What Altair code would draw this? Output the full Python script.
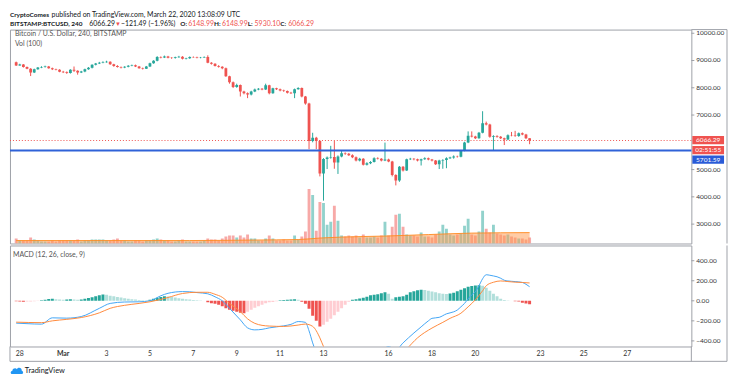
import altair as alt
import numpy as np
import pandas as pd

FONT = "Lato"
UP, DOWN = "#26a69a", "#ef5350"
UP_LIGHT, DOWN_LIGHT = "#b2dfdb", "#ffcdd2"
GRID = "#eef1f6"
FRAME = "#9ea1a8"
TXT = "#333333"

# ---------------- data (BITSTAMP:BTCUSD, 4h candles from 2020-02-27 20:00 UTC) -------------
first_open = 8940
closes = [8820, 8850, 8760, 8700, 8560, 8680, 8740, 8760, 8780, 8720,
          8680, 8660, 8590, 8570, 8540, 8660, 8620, 8560, 8600, 8680,
          8730, 8840, 8890, 8920, 8940, 8950, 8860, 8800, 8760, 8740,
          8770, 8810, 8830, 8780, 8720, 8700, 8780, 8900, 8990, 9130,
          9110, 9150, 9100, 9090, 9120, 9140, 9060, 9080, 9130, 9120,
          9100, 9110, 9130, 8920, 8880, 8800, 8770, 8720, 8420, 8200,
          8030, 8100, 7860, 7800, 7750, 7860, 7940, 7960, 7940, 8090,
          7800, 7980, 7950, 7900, 7880, 7820, 7800, 7950, 7990, 7680,
          7420, 6050, 6170, 6050, 4860, 5390, 5440, 5460, 5260, 5480,
          5600, 5580, 5530, 5450, 5330, 5400, 5180, 5230, 5280, 5420,
          5400, 5330, 5370, 5300, 4800, 4600, 5100, 4970, 5380, 5400,
          5380, 5330, 5380, 5420, 5370, 5330, 5200, 5330, 5350, 5420,
          5440, 5480, 5470, 5690, 5990, 6240, 6210, 6150, 6350, 6700,
          6650, 6200, 6230, 6200, 6150, 6100, 6260, 6250, 6230, 6330,
          6290, 6148.99, 6066.29]
highs = [8960, 8880, 8870, 8780, 8720, 8700, 8760, 8790, 8810, 8800,
         8740, 8700, 8680, 8620, 8600, 8680, 8780, 8640, 8620, 8700,
         8760, 8860, 8910, 8950, 8970, 8990, 8970, 8880, 8830, 8780,
         8790, 8830, 8850, 8850, 8800, 8740, 8800, 8920, 9010, 9160,
         9150, 9180, 9170, 9120, 9140, 9170, 9160, 9100, 9150, 9150,
         9140, 9130, 9150, 9190, 8940, 8900, 8830, 8790, 8740, 8440,
         8230, 8150, 8120, 7890, 7830, 7890, 7970, 7990, 7990, 8150,
         8110, 8000, 8000, 7970, 7930, 7900, 7850, 7970, 8020, 8010,
         7700, 7450, 6350, 6200, 6080, 5420, 5480, 5870, 6050, 5520,
         5680, 5630, 5610, 5560, 5480, 5430, 5420, 5270, 5310, 5450,
         5450, 5420, 5990, 5400, 5320, 4830, 5130, 5130, 5400, 5430,
         5420, 5400, 5400, 5450, 5440, 5390, 5350, 5360, 5380, 5450,
         5470, 5520, 5510, 5720, 6020, 6400, 6400, 6240, 6380, 7140,
         6760, 6680, 6260, 6260, 6230, 6170, 6290, 6380, 6420, 6360,
         6360, 6310, 6148.99]
lows = [8800, 8810, 8740, 8680, 8430, 8540, 8660, 8720, 8740, 8700,
        8650, 8640, 8570, 8540, 8510, 8520, 8580, 8480, 8540, 8570,
        8660, 8710, 8820, 8870, 8900, 8920, 8840, 8770, 8740, 8710,
        8720, 8750, 8790, 8760, 8700, 8670, 8690, 8760, 8880, 8970,
        9080, 9090, 9080, 9060, 9070, 9100, 9040, 9040, 9060, 9100,
        9080, 9080, 9100, 8900, 8850, 8780, 8740, 8680, 8400, 8150,
        7990, 8000, 7680, 7760, 7620, 7720, 7840, 7910, 7910, 7920,
        7760, 7780, 7920, 7870, 7850, 7790, 7770, 7620, 7930, 7650,
        7380, 5750, 6000, 5750, 4750, 3860, 5020, 5400, 5030, 4840,
        5450, 5540, 5500, 5420, 5300, 5300, 5150, 5150, 5200, 5260,
        5370, 5300, 5310, 5270, 4750, 4420, 4550, 4930, 4950, 5350,
        5340, 5300, 5150, 5360, 5340, 5300, 5170, 5020, 5030, 5050,
        5390, 5400, 5440, 5450, 5670, 5970, 6180, 6120, 6130, 6330,
        6620, 6170, 5690, 6170, 6120, 5900, 6080, 6220, 6200, 6200,
        6260, 6120, 5930.10]
volumes = [2500, 1500, 1500, 1500, 3000, 2000, 1500, 1000, 1000, 1000,
           1500, 1000, 1500, 1500, 1500, 1500, 1500, 2000, 1000, 1500,
           1500, 2000, 2000, 2000, 2000, 1500, 1500, 2000, 2500, 1500,
           1500, 1000, 1000, 1500, 1500, 1000, 1500, 1500, 2000, 2500,
           2000, 1500, 1500, 1000, 1000, 1500, 2000, 1000, 1000, 1000,
           1000, 1000, 1500, 2500, 2000, 2000, 1500, 2500, 3500, 4000,
           4000, 3000, 4000, 3000, 4500, 2500, 2500, 1500, 1500, 2500,
           4000, 2500, 1500, 1500, 2000, 1500, 1500, 4000, 2000, 3500,
           6000, 27500, 24500, 6500, 21000, 20500, 9500, 11000, 19000, 11500,
           4000, 3500, 4000, 3500, 4000, 3000, 4500, 3000, 3000, 3500,
           3000, 4000, 11000, 4000, 8500, 14500, 15000, 8500, 4500, 4000,
           4000, 3500, 5500, 3500, 3500, 3000, 4500, 6000, 9500, 7500,
           4500, 4000, 4500, 5000, 9000, 12500, 4500, 4000, 6000, 16500,
           7500, 5500, 9500, 5000, 4500, 4000, 4500, 3500, 3000, 2500,
           2500, 2000, 3000]
vma_idx = [0, 24, 48, 66, 78, 84, 90, 102, 114, 126, 142]
vma_val = [1500, 1500, 1500, 1750, 2000, 2750, 3250, 3750, 4500, 5250, 5500]

hist = [-5, -8, -10, -8, -6, -4, -2,
        5, 10, 18, 20, 15, 12, 10, 14, 16, 12, 10, 14, 20, 28,
        35, 45, 55, 62, 60,
        50, 45, 38, 32, 25, 20, 15, 12, 8, 5, 3,
        10, 20, 30, 38, 45, 42,
        38, 32, 25, 20, 15, 12, 8, 5, 3, 1,
        -15, -25, -30, -40, -55, -75, -90, -100, -110, -118, -124,
        -110, -90, -70, -55, -40, -25, -15,
        -12, -5,
        5, 8, 10, 12, 15, 10,
        -10, -30, -80, -150, -200, -256,
        -240, -210, -180, -145, -110, -75, -40, -10,
        10, 15, 22, 30, 40, 55, 60, 65, 75, 85,
        70, 20, 35, 40, 45, 60, 85, 95, 105, 110,
        108, 100, 92, 85, 75, 70, 68, 72, 80, 95,
        110, 125, 140, 148, 152, 155, 150, 130, 100, 70,
        45, 20, 8, 3, 0, -5, -8, -20, -28, -35]
macd_idx = [0, 3, 7, 10, 14, 18, 23, 26, 30, 34,
            37, 40, 42, 46, 48, 50, 53, 55, 57, 59,
            62, 64, 66, 68, 70, 74, 76, 78, 80, 81,
            82, 83, 85, 88, 92, 96, 100, 103, 105, 107,
            110, 112, 114, 115, 117, 119, 121, 122, 123, 124,
            125, 126, 127, 128, 129, 130, 131, 132, 133, 134,
            135, 136, 138, 140, 141, 142]
macd_val = [-223, -228, -233, -170, -173, -157, -75, -26, -12, -10,
            0, 50, 75, 92, 90, 82, 70, 40, 0, -75,
            -190, -270, -290, -285, -270, -250, -235, -207, -215, -300,
            -420, -520, -700, -780, -750, -650, -540, -457, -490, -420,
            -321, -260, -200, -175, -165, -130, -110, -92, -60, -26,
            20, 60, 90, 150, 220, 260, 255, 248, 240, 225,
            205, 198, 192, 183, 165, 141]
sig_idx = [0, 7, 10, 14, 18, 23, 26, 30, 34, 37,
           42, 46, 50, 53, 55, 57, 59, 62, 64, 66,
           68, 70, 74, 78, 80, 82, 84, 85, 87, 90,
           95, 100, 105, 108, 111, 115, 118, 120, 123, 125,
           127, 129, 130, 132, 134, 136, 138, 140, 142]
sig_val = [-213, -218, -200, -185, -167, -120, -75, -45, -26, -10,
           33, 73, 85, 85, 65, 35, -26, -108, -180, -225,
           -245, -252, -256, -242, -232, -255, -370, -456, -560, -650,
           -700, -650, -580, -480, -370, -272, -215, -175, -124, -60,
           10, 100, 150, 185, 198, 192, 186, 183, 178]

date_ticks = ["2020-02-28", "2020-03-01", "2020-03-03", "2020-03-05", "2020-03-07",
              "2020-03-09", "2020-03-11", "2020-03-13", "2020-03-16", "2020-03-18",
              "2020-03-20", "2020-03-23", "2020-03-25", "2020-03-27"]
date_labels = ["28", "Mar", "3", "5", "7", "9", "11", "13", "16", "18", "20", "23", "25", "27"]
price_ticks = [3000, 4000, 5000, 6000, 7000, 8000, 9000, 10000]
price_label_ticks = [3000, 4000, 5000, 7000, 8000, 9000, 10000]  # 6000.00 sits under the price tags
macd_ticks = [-400, -200, 0, 200, 400]

last_price = 6066.29
line_price = 5701.59


def ms(s):
    return int(pd.Timestamp(s, tz="UTC").value // 1_000_000)


T0 = ms("2020-02-27 20:00")
STEP = 4 * 3600 * 1000
n = len(closes)
times = [T0 + i * STEP for i in range(n)]
opens = [first_open] + closes[:-1]

df = pd.DataFrame(dict(t=times, open=opens, high=highs, low=lows, close=closes,
                       vol=volumes, hist=hist))
df["ccol"] = np.where(df["close"] >= df["open"], UP, DOWN)
hcol, prev = [], 0
for h in hist:
    if h >= 0:
        hcol.append(UP if h >= prev else UP_LIGHT)
    else:
        hcol.append(DOWN if h <= prev else DOWN_LIGHT)
    prev = h
df["hcol"] = hcol

vma_df = pd.DataFrame(dict(t=[times[i] for i in vma_idx], v=vma_val))
macd_df = pd.DataFrame(dict(t=[times[i] for i in macd_idx], v=macd_val))
sig_df = pd.DataFrame(dict(t=[times[i] for i in sig_idx], v=sig_val))
one = pd.DataFrame({"k": [0]})
tick_ms = [ms(d) for d in date_ticks]
date_df = pd.DataFrame(dict(t=tick_ms, lab=date_labels))
date_df["bold"] = date_df["lab"] == "Mar"
plab_df = pd.DataFrame(dict(v=price_label_ticks, lab=[f"{v:.2f}" for v in price_label_ticks]))
mlab_df = pd.DataFrame(dict(v=macd_ticks, lab=[f"{v:.2f}".replace("-", "\u2212") for v in macd_ticks]))

# ---------------- layout ----------------
W, PH, MH = 688, 216, 102
xs = alt.Scale(type="utc", domain=[ms("2020-02-27 18:38"), ms("2020-03-29 17:28")])
ys_price = alt.Scale(domain=[2289, 10134], nice=False, zero=False)
ys_vol = alt.Scale(domain=[0, 108000], nice=False, zero=False)
ys_macd = alt.Scale(domain=[-456, 552], nice=False, zero=False)

x_none = alt.X("t:T", scale=xs, axis=None)
x_grid = alt.X("t:T", scale=xs, axis=alt.Axis(values=tick_ms, grid=True, gridColor=GRID,
                                               labels=False, ticks=False, domain=False, title=None))


def ptxt(text, x, y, size=7.0, color=TXT, weight="normal", align="left", baseline="middle"):
    return alt.Chart(one).mark_text(text=text, align=align, baseline=baseline, font=FONT,
                                    fontSize=size, fontWeight=weight, color=color).encode(x=alt.value(x), y=y)


def prule(**enc):
    return alt.Chart(one).mark_rule(color=FRAME, strokeWidth=1).encode(**enc)


base = alt.Chart(df)

# volume sub-layer
vol_bars = base.mark_bar(size=2.9, opacity=0.5, clip=True).encode(
    x=x_grid,
    y=alt.Y("vol:Q", scale=ys_vol, axis=None),
    y2=alt.Y2Datum(0),
    color=alt.Color("ccol:N", scale=None))
vma_area = alt.Chart(vma_df).mark_area(
    color="#ff9a4d", opacity=0.5, interpolate="monotone", clip=True,
    line={"color": "#ff8a1f", "strokeWidth": 1, "opacity": 0.9}).encode(
    x=x_none, y=alt.Y("v:Q", scale=ys_vol, axis=None))
vol_layer = alt.layer(vol_bars, vma_area)

price_grid_axis = alt.Axis(orient="right", values=price_ticks, grid=True, gridColor=GRID,
                           labels=False, ticks=False, domain=False, title=None)

wicks = base.mark_rule(strokeWidth=1, clip=True).encode(
    x=x_none, y=alt.Y("low:Q", scale=ys_price, axis=price_grid_axis), y2="high:Q",
    color=alt.Color("ccol:N", scale=None))
bodies = base.mark_bar(size=2.8, clip=True).encode(
    x=x_none, y=alt.Y("open:Q", scale=ys_price, axis=None), y2="close:Q",
    color=alt.Color("ccol:N", scale=None))
red_dot = alt.Chart(one).mark_rule(color=DOWN, strokeDash=[1, 2], strokeWidth=1).encode(
    y=alt.YDatum(last_price, scale=ys_price, axis=None))
blue_line = alt.Chart(one).mark_rule(color="#2f62d8", strokeWidth=2).encode(
    y=alt.YDatum(line_price, scale=ys_price, axis=None))

# price scale labels + ticks (right side)
p_ticks = alt.Chart(plab_df).mark_rule(color=FRAME, strokeWidth=1).encode(
    x=alt.value(688), x2=alt.value(691), y=alt.Y("v:Q", scale=ys_price, axis=None))
p_labels = alt.Chart(plab_df).mark_text(align="left", baseline="middle", font=FONT, fontSize=6.6,
                                        color=TXT).encode(
    x=alt.value(693), y=alt.Y("v:Q", scale=ys_price, axis=None), text="lab:N")


def tag(lo, hi, mid, text, fill):
    r = alt.Chart(one).mark_rect(color=fill).encode(
        x=alt.value(689), x2=alt.value(721),
        y=alt.YDatum(hi, scale=ys_price, axis=None), y2=alt.Y2Datum(lo))
    t = ptxt(text, 705, alt.YDatum(mid, scale=ys_price, axis=None), size=6.6, color="white", align="center")
    return [r, t]


tags = (tag(5931, 6235, 6083, "6066.29", DOWN) + tag(5565, 5869, 5717, "02:51:55", DOWN)
        + tag(5213, 5517, 5365, "5701.59", "#2a5bd7"))

hdr_y1, hdr_y2 = alt.value(-13), alt.value(-4)
HC = "#131722"
header = [
    ptxt("CryptoComes", 0, hdr_y1, size=6.5, weight="bold", baseline="alphabetic", color=HC),
    ptxt("published on TradingView.com, March 22, 2020 13:08:09 UTC", 42, hdr_y1, baseline="alphabetic", color=HC),
    ptxt("BITSTAMP:BTCUSD, 240", 0, hdr_y2, size=6.5, weight="bold", baseline="alphabetic", color=HC),
    ptxt("6066.29", 80, hdr_y2, baseline="alphabetic", color=HC),
    ptxt("\u25bc", 106, hdr_y2, baseline="alphabetic", color=DOWN, size=6),
    ptxt("\u2212121.49 (\u22121.96%)", 112, hdr_y2, baseline="alphabetic", color=HC),
    ptxt("O:", 172, hdr_y2, size=6.5, baseline="alphabetic", weight="bold", color=HC),
    ptxt("6148.99", 180, hdr_y2, baseline="alphabetic", color=DOWN),
    ptxt("H:", 206, hdr_y2, size=6.5, baseline="alphabetic", weight="bold", color=HC),
    ptxt("6148.99", 214, hdr_y2, baseline="alphabetic", color=DOWN),
    ptxt("L:", 240, hdr_y2, size=6.5, baseline="alphabetic", weight="bold", color=HC),
    ptxt("5930.10", 247, hdr_y2, baseline="alphabetic", color=DOWN),
    ptxt("C:", 273, hdr_y2, size=6.5, baseline="alphabetic", weight="bold", color=HC),
    ptxt("6066.29", 281, hdr_y2, baseline="alphabetic", color=DOWN),
]
legend = [
    ptxt("Bitcoin / U.S. Dollar, 240, BITSTAMP", 5, alt.YDatum(9978, scale=ys_price, axis=None), color="#555555"),
    ptxt("Vol (100)", 5, alt.YDatum(9616, scale=ys_price, axis=None), color="#555555"),
]
price_frame = [
    prule(x=alt.value(688), x2=alt.value(724), y=alt.value(0)),
    prule(x=alt.value(724), y=alt.value(0), y2=alt.value(PH)),
]

price_layer = alt.layer(red_dot, wicks, bodies, blue_line, p_ticks, p_labels, *tags, *header,
                        *legend, *price_frame)
price_panel = alt.layer(vol_layer, price_layer).resolve_scale(y="independent").properties(width=W, height=PH)

# ---------------- MACD panel ----------------
x_axis = alt.Axis(values=tick_ms, grid=True, gridColor=GRID, labels=False, ticks=False,
                  domain=False, title=None)
macd_grid_axis = alt.Axis(orient="right", values=macd_ticks, grid=True, gridColor=GRID,
                          labels=False, ticks=False, domain=False, title=None)

hist_bars = base.mark_bar(size=3, clip=True).encode(
    x=alt.X("t:T", scale=xs, axis=x_axis),
    y=alt.Y("hist:Q", scale=ys_macd, axis=macd_grid_axis), y2=alt.Y2Datum(0),
    color=alt.Color("hcol:N", scale=None))
macd_line = alt.Chart(macd_df).mark_line(color="#42a5f5", strokeWidth=1, interpolate="monotone", clip=True).encode(
    x=x_none, y=alt.Y("v:Q", scale=ys_macd, axis=None))
sig_line = alt.Chart(sig_df).mark_line(color="#ff8a3d", strokeWidth=1, interpolate="monotone", clip=True).encode(
    x=x_none, y=alt.Y("v:Q", scale=ys_macd, axis=None))
macd_label = ptxt("MACD (12, 26, close, 9)", 3, alt.YDatum(453, scale=ys_macd, axis=None), color="#555555")

m_ticks = alt.Chart(mlab_df).mark_rule(color=FRAME, strokeWidth=1).encode(
    x=alt.value(688), x2=alt.value(691), y=alt.Y("v:Q", scale=ys_macd, axis=None))
m_labels = alt.Chart(mlab_df).mark_text(align="left", baseline="middle", font=FONT, fontSize=6.6,
                                        color=TXT).encode(
    x=alt.value(693), y=alt.Y("v:Q", scale=ys_macd, axis=None), text="lab:N")
d_labels = alt.Chart(date_df).transform_filter("!datum.bold").mark_text(
    align="center", baseline="middle", font=FONT, fontSize=7, color=TXT).encode(
    x=x_none, y=alt.value(MH + 8), text="lab:N")
d_labels_b = alt.Chart(date_df).transform_filter("datum.bold").mark_text(
    align="center", baseline="middle", font=FONT, fontSize=7, fontWeight="bold", color=TXT).encode(
    x=x_none, y=alt.value(MH + 8), text="lab:N")

cloud = ("M-0.8,0.45 C-1.1,0.45 -1.1,-0.05 -0.75,-0.1 C-0.7,-0.5 -0.2,-0.6 0,-0.35 "
         "C0.2,-0.75 0.85,-0.6 0.8,-0.1 C1.1,-0.05 1.1,0.45 0.8,0.45 Z")
logo_icon = alt.Chart(one).mark_point(shape=cloud, filled=True, color="#2196f3", size=150, opacity=1).encode(
    x=alt.value(7), y=alt.value(127))
logo_text = ptxt("TradingView", 15, alt.value(127), size=7.5, color=HC)

macd_frame = [
    prule(x=alt.value(0), x2=alt.value(724), y=alt.value(117)),
    prule(x=alt.value(724), y=alt.value(0), y2=alt.value(117)),
    prule(x=alt.value(0), y=alt.value(MH), y2=alt.value(117)),
    prule(x=alt.value(688), y=alt.value(MH), y2=alt.value(117)),
]

macd_panel = alt.layer(hist_bars, macd_line, sig_line, macd_label, m_ticks, m_labels, d_labels,
                       d_labels_b, logo_icon, logo_text, *macd_frame).properties(width=W, height=MH)

chart = (alt.vconcat(price_panel, macd_panel, spacing=0)
         .properties(padding={"left": 0, "top": 0, "right": 0, "bottom": 0}, background="white")
         .configure_view(stroke=FRAME, strokeWidth=1)
         .configure_axis(labelFont=FONT))

chart.save("out.html", embed_options={"renderer": "svg", "actions": False})
